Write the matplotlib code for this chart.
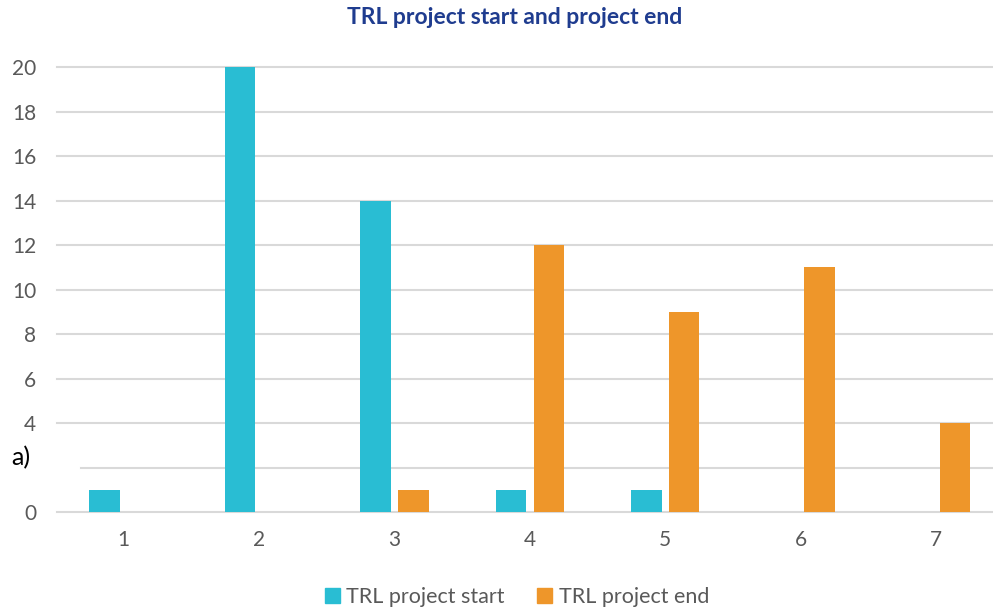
import matplotlib
matplotlib.use('Agg')
import matplotlib.pyplot as plt
from matplotlib.patches import Patch

# TRL levels and number of projects
levels = [1, 2, 3, 4, 5, 6, 7]
trl_start = [1, 20, 14, 1, 1, 0, 0]
trl_end = [0, 0, 1, 12, 9, 11, 4]
y_ticks = [0, 2, 4, 6, 8, 10, 12, 14, 16, 18, 20]

c_start = '#29BDD3'
c_end = '#EE962A'
grey = '#595959'

plt.rcParams['font.family'] = ['Lato', 'DejaVu Sans']

fig = plt.figure(figsize=(9.93, 6.11), dpi=100)
ax = fig.add_axes([0.0574, 0.162, 0.955, 0.728])

w = 0.225
off = 0.14
ax.bar([x - off for x in levels], trl_start, width=w, color=c_start, zorder=3)
ax.bar([x + off for x in levels], trl_end, width=w, color=c_end, zorder=3)

ax.set_xlim(0.51, 7.51)
ax.set_ylim(0, 20)
ax.set_xticks(levels)
ax.set_xticklabels([str(l) for l in levels])
ax.set_yticks(y_ticks)
ax.set_yticklabels(['' if t == 2 else str(t) for t in y_ticks])
ax.tick_params(length=0, labelsize=15, colors=grey)
ax.tick_params(axis='x', pad=13)
ax.tick_params(axis='y', pad=15)
for s in ax.spines.values():
    s.set_visible(False)

# gridlines (the one at 2 is partly covered by the "a)" label)
for t in y_ticks:
    xmin = 0.025 if t == 2 else 0
    ax.axhline(t, xmin=xmin, xmax=1, color='#D9D9D9', lw=1.5, zorder=1, clip_on=False)

fig.text(515 / 993, 1 - 17 / 611, 'TRL project start and project end', ha='center', va='center',
         fontsize=16.5, fontweight='bold', color='#1F3C8F')

fig.text(11 / 993, 1 - 458 / 611, 'a)', ha='left', va='center', fontsize=18, color='black')

handles = [Patch(color=c_start, label='TRL project start'),
           Patch(color=c_end, label='TRL project end')]
leg = fig.legend(handles=handles, loc='center', bbox_to_anchor=(517 / 993, 1 - 597 / 611), ncol=2,
                 frameon=False, fontsize=15.5, handlelength=0.7, handleheight=0.7,
                 handletextpad=0.3, columnspacing=1.5)
for txt in leg.get_texts():
    txt.set_color(grey)

fig.savefig('out.png', dpi=100)
